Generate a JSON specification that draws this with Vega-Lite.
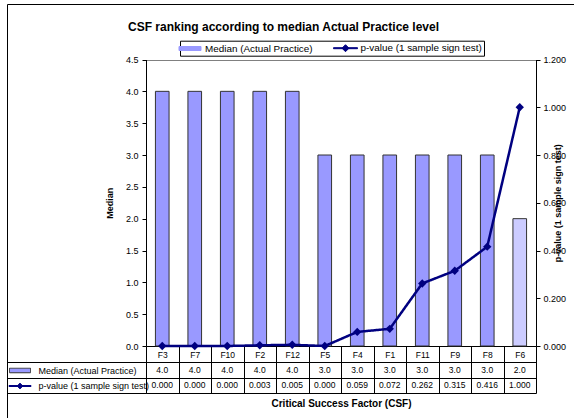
{
  "$schema": "https://vega.github.io/schema/vega-lite/v6.json",
  "width": 567,
  "height": 414,
  "autosize": {"type": "none"},
  "padding": {"left": 7, "top": 4, "right": 0, "bottom": 0},
  "background": "#ffffff",
  "title": {
    "text": "CSF ranking according to median Actual Practice level",
    "font": "Liberation Sans",
    "fontSize": 12,
    "fontWeight": "bold",
    "color": "#000000",
    "anchor": "middle",
    "frame": "group",
    "offset": -29.5,
    "dx": -7
  },
  "data": {
    "values": [
      {"csf": "F3", "median": 4.0, "p": 0.000},
      {"csf": "F7", "median": 4.0, "p": 0.000},
      {"csf": "F10", "median": 4.0, "p": 0.000},
      {"csf": "F2", "median": 4.0, "p": 0.003},
      {"csf": "F12", "median": 4.0, "p": 0.005},
      {"csf": "F5", "median": 3.0, "p": 0.000},
      {"csf": "F4", "median": 3.0, "p": 0.059},
      {"csf": "F1", "median": 3.0, "p": 0.072},
      {"csf": "F11", "median": 3.0, "p": 0.262},
      {"csf": "F9", "median": 3.0, "p": 0.315},
      {"csf": "F8", "median": 3.0, "p": 0.416},
      {"csf": "F6", "median": 2.0, "p": 1.000}
    ]
  },
  "resolve": {"scale": {"y": "independent"}, "axis": {"y": "independent"}},
  "layer": [
    {
      "mark": {"type": "bar", "stroke": "#333333", "strokeWidth": 1, "width": {"band": 0.42}, "opacity": 1},
      "encoding": {
        "x": {
          "field": "csf", "type": "nominal", "sort": null,
          "scale": {"type": "band", "domain": ["F3","F7","F10","F2","F12","F5","F4","F1","F11","F9","F8","F6"], "range": [139, 529], "paddingInner": 0, "paddingOuter": 0},
          "axis": {
            "orient": "bottom", "offset": -72, "title": "Critical Success Factor (CSF)",
            "titleFontSize": 10, "titlePadding": 5, "tickBand": "extent", "tickSize": 47,
            "labelPadding": -43, "labelFontSize": 8.5, "labelAngle": 0, "labelOverlap": false,
            "labelBaseline": "top", "domainColor": "#000000", "tickColor": "#000000", "grid": false
          }
        },
        "y": {
          "field": "median", "type": "quantitative",
          "scale": {"domain": [0, 4.5], "range": [342, 55.5], "nice": false, "zero": true},
          "axis": {
            "orient": "left", "offset": -139, "values": [0, 0.5, 1, 1.5, 2, 2.5, 3, 3.5, 4, 4.5],
            "format": ".1f", "tickSize": 4, "labelPadding": 4, "labelFontSize": 9,
            "title": "Median", "titlePadding": 11, "titleFontSize": 9,
            "grid": true, "gridColor": "#808080",
            "gridOpacity": {"condition": {"test": "datum.value >= 4.5", "value": 1}, "value": 0}
          }
        },
        "color": {
          "condition": {"test": "datum.csf === 'F6'", "value": "#CCCCFF"},
          "datum": "Median (Actual Practice)",
          "scale": {"domain": ["Median (Actual Practice)", "p-value (1 sample sign test)"], "range": ["#9999FF", "#000080"]},
          "legend": {
            "orient": "none", "legendX": 173, "legendY": 36.7, "direction": "horizontal", "title": null,
            "strokeColor": "#000000", "fillColor": "#ffffff", "padding": 2,
            "symbolSize": 100, "symbolOffset": 2.5, "symbolStrokeWidth": 1, "labelOffset": 9.5, "columnPadding": 18.5,
            "labelFontSize": 9.9, "labelFont": "Liberation Sans", "labelColor": "#000000",
            "encoding": {
              "symbols": {
                "shape": {"condition": {"test": "datum.value === 'Median (Actual Practice)'", "value": "M-2.2,-0.4H2.2V0.4H-2.2Z"}, "value": "M-2.4,-0.1H2.4V0.1H-2.4Z M-0.7,0L0,-0.7L0.7,0L0,0.7Z"},
                "fill": {"condition": {"test": "datum.value === 'Median (Actual Practice)'", "value": "#9999FF"}, "value": "#000080"},
                "stroke": {"condition": {"test": "datum.value === 'Median (Actual Practice)'", "value": "#333333"}, "value": "#000080"},
                "opacity": {"value": 1}
              }
            }
          }
        }
      }
    },
    {
      "mark": {"type": "line", "strokeWidth": 2.5},
      "encoding": {
        "x": {"field": "csf", "type": "nominal", "sort": null, "bandPosition": 0.5},
        "y": {
          "field": "p", "type": "quantitative",
          "scale": {"domain": [0, 1.2], "range": [342, 55.5], "nice": false, "zero": true},
          "axis": {
            "orient": "right", "offset": -38, "values": [0, 0.2, 0.4, 0.6, 0.8, 1, 1.2],
            "format": ".3f", "tickSize": 4, "labelPadding": 3, "labelFontSize": 9,
            "title": "p-value (1 sample sign test)", "titleFontSize": 9, "titleAngle": 270,
            "titleBaseline": "bottom", "titlePadding": -3, "grid": false
          }
        },
        "color": {"datum": "p-value (1 sample sign test)"},
        "strokeDash": {
          "datum": "p-value (1 sample sign test)",
          "scale": {"domain": ["p-value (1 sample sign test)", "Median (Actual Practice)"], "range": [[1, 0], [1, 0]]},
          "legend": {
            "orient": "none", "legendX": 2, "legendY": 361, "direction": "vertical", "title": null,
            "values": ["Median (Actual Practice)", "p-value (1 sample sign test)"],
            "strokeColor": null, "padding": 0, "rowPadding": 4.5,
            "symbolSize": 100, "symbolOffset": 5.5, "symbolStrokeWidth": 1, "labelOffset": 13,
            "labelFontSize": 9, "labelFont": "Liberation Sans", "labelColor": "#000000",
            "encoding": {
              "symbols": {
                "shape": {"condition": {"test": "datum.value === 'Median (Actual Practice)'", "value": "M-2.1,-0.45H2.1V0.45H-2.1Z"}, "value": "M-2.2,-0.1H2.2V0.1H-2.2Z M-0.6,0L0,-0.6L0.6,0L0,0.6Z"},
                "fill": {"condition": {"test": "datum.value === 'Median (Actual Practice)'", "value": "#9999FF"}, "value": "#000080"},
                "stroke": {"condition": {"test": "datum.value === 'Median (Actual Practice)'", "value": "#333333"}, "value": "#000080"},
                "opacity": {"value": 1}
              }
            }
          }
        }
      }
    },
    {
      "mark": {"type": "point", "filled": true, "size": 70, "opacity": 1, "shape": "diamond"},
      "encoding": {
        "x": {"field": "csf", "type": "nominal", "sort": null, "bandPosition": 0.5},
        "y": {
          "field": "p", "type": "quantitative",
          "scale": {"domain": [0, 1.2], "range": [342, 55.5], "nice": false, "zero": true},
          "axis": null
        },
        "color": {"datum": "p-value (1 sample sign test)"}
      }
    },
    {
      "mark": {"type": "text", "fontSize": 8.5, "font": "Liberation Sans", "color": "#000000", "baseline": "middle"},
      "encoding": {
        "x": {"field": "csf", "type": "nominal", "sort": null, "bandPosition": 0.5},
        "y": {
          "datum": "Median (Actual Practice)", "type": "nominal", "bandPosition": 0.5,
          "scale": {"type": "band", "domain": ["Median (Actual Practice)", "p-value (1 sample sign test)"], "range": [358, 389], "paddingInner": 0, "paddingOuter": 0},
          "axis": {
            "orient": "left", "offset": -139, "tickBand": "extent", "tickSize": 139, "labels": false,
            "title": null, "grid": true, "gridColor": "#000000", "gridOpacity": 1,
            "domain": true, "domainColor": "#000000", "tickColor": "#000000"
          }
        },
        "text": {"field": "median", "type": "quantitative", "format": ".1f"}
      }
    },
    {
      "mark": {"type": "text", "fontSize": 8.5, "font": "Liberation Sans", "color": "#000000", "baseline": "middle"},
      "encoding": {
        "x": {"field": "csf", "type": "nominal", "sort": null, "bandPosition": 0.5},
        "y": {
          "datum": "p-value (1 sample sign test)", "type": "nominal", "bandPosition": 0.5,
          "scale": {"type": "band", "domain": ["Median (Actual Practice)", "p-value (1 sample sign test)"], "range": [358, 389], "paddingInner": 0, "paddingOuter": 0},
          "axis": null
        },
        "text": {"field": "p", "type": "quantitative", "format": ".3f"}
      }
    }
  ],
  "config": {
    "font": "Liberation Sans",
    "view": {"stroke": "#000000", "strokeWidth": 1},
    "axis": {
      "labelFont": "Liberation Sans", "titleFont": "Liberation Sans",
      "labelColor": "#000000", "titleColor": "#000000", "titleFontWeight": "bold",
      "domainColor": "#000000", "tickColor": "#000000", "domainWidth": 1, "tickWidth": 1
    },
    "legend": {"labelFont": "Liberation Sans", "labelColor": "#000000"}
  }
}
